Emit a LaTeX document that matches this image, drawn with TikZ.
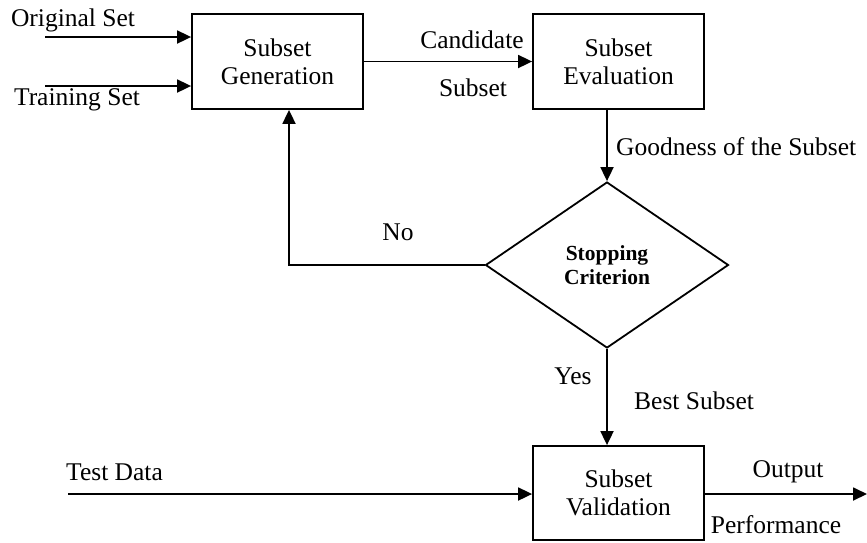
\documentclass[tikz,border=0pt]{standalone}
\usepackage{fontspec}
\setmainfont{Liberation Serif}
\usetikzlibrary{shapes.geometric,arrows.meta}
\begin{document}
\begin{tikzpicture}[x=1pt,y=-1pt,
  every node/.style={font=\fontsize{25.5}{28}\selectfont},
  blk/.style={draw,line width=1.8pt,minimum width=171pt,minimum height=95pt,inner sep=0pt,align=center},
  dia/.style={draw,diamond,line width=1.8pt,minimum width=243pt,minimum height=166pt,inner sep=0pt,align=center,
    font=\fontsize{21.5}{24}\selectfont\bfseries},
  con/.style={line width=1.8pt},
  arr/.style={line width=1.8pt,-{Triangle[length=14pt,width=13pt]}},
  lbl/.style={inner sep=0pt}]
\useasboundingbox (0,0) rectangle (867,542);
\node[blk] (gen) at (277.5,61.5) {Subset\\Generation};
\node[blk] (eval) at (618.5,61.5) {Subset\\Evaluation};
\node[dia] (crit) at (607,265) {Stopping\\Criterion};
\node[blk,minimum height=94pt] (val) at (618.5,493) {Subset\\Validation};

\coordinate (orig) at (45,37);
\coordinate (train) at (45,86);
\coordinate (td) at (68,494);
\coordinate (tdm) at (241,494);
\coordinate (out) at (867,494);

\draw[arr] (orig) -- (orig -| gen.west);
\draw[arr] (train) -- (train -| gen.west);
\draw[arr] (gen.east) -- (eval.west);
\draw[arr] (crit.north |- eval.south) -- (crit.north);
\draw[arr] (crit.west) -| ([xshift=11.5pt]gen.south);
\draw[arr] (crit.south) -- (crit.south |- val.north);
\draw[line width=1.2pt] (td) -- (tdm);
\draw[arr] (tdm) -- (tdm -| val.west);
\draw[arr] (val.east |- out) -- (out);

\node[lbl] (lorig) at (73,20) {Original Set};
\node[lbl] (ltrain) at (77,100) {Training Set};
\node[lbl] (lcand) at (472,40) {Candidate};
\node[lbl] (lsub) at (473,88) {Subset};
\node[lbl,anchor=west] (lgood) at (616,147) {Goodness of the Subset};
\node[lbl] (lno) at (398,232) {No};
\node[lbl] (lyes) at (573,376) {Yes};
\node[lbl,anchor=west] (lbest) at (634,401) {Best Subset};
\node[lbl,anchor=west] (ltest) at (66,472) {Test Data};
\node[lbl] (lout) at (788,472) {Output};
\node[lbl] (lperf) at (776,525) {Performance};
\end{tikzpicture}
\end{document}
